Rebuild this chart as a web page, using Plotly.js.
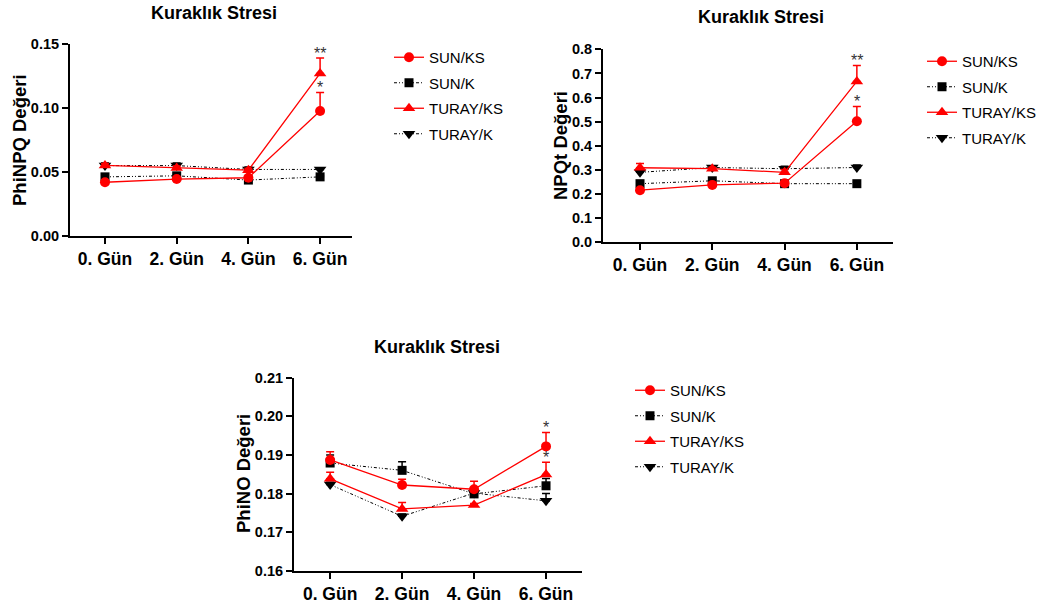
<!DOCTYPE html>
<html>
<head>
<meta charset="utf-8">
<script src="https://cdn.plot.ly/plotly-3.0.1.min.js"></script>
<style>
  html, body { margin: 0; padding: 0; background: #fff; }
  #chart { width: 1057px; height: 612px; }
</style>
</head>
<body>
<div id="chart"></div>
<script>
// Sampling days and treatment groups
const days = ['0. Gün', '2. Gün', '4. Gün', '6. Gün'];
const groups = ['SUN/KS', 'SUN/K', 'TURAY/KS', 'TURAY/K'];

// PhiNPQ: means and standard errors per group
const phiNPQ_SUN_KS = [0.0420, 0.0445, 0.0455, 0.0976];
const phiNPQ_SUN_KS_se = [0.0010, 0.0010, 0.0010, 0.0146];
const phiNPQ_SUN_K = [0.0462, 0.0470, 0.0437, 0.0462];
const phiNPQ_SUN_K_se = [0.0010, 0.0010, 0.0010, 0.0010];
const phiNPQ_TURAY_KS = [0.0551, 0.0532, 0.0514, 0.1270];
const phiNPQ_TURAY_KS_se = [0.0015, 0.0015, 0.0015, 0.0120];
const phiNPQ_TURAY_K = [0.0550, 0.0550, 0.0520, 0.0520];
const phiNPQ_TURAY_K_se = [0.0020, 0.0020, 0.0020, 0.0010];
const phiNPQ_sig = { 'SUN/KS': ['', '', '', '*'], 'TURAY/KS': ['', '', '', '**'] };

// NPQt: means and standard errors per group
const npqt_SUN_KS = [0.216, 0.238, 0.245, 0.502];
const npqt_SUN_KS_se = [0.005, 0.005, 0.005, 0.061];
const npqt_SUN_K = [0.243, 0.255, 0.243, 0.243];
const npqt_SUN_K_se = [0.005, 0.005, 0.005, 0.005];
const npqt_TURAY_KS = [0.309, 0.305, 0.290, 0.667];
const npqt_TURAY_KS_se = [0.018, 0.006, 0.012, 0.066];
const npqt_TURAY_K = [0.290, 0.310, 0.305, 0.310];
const npqt_TURAY_K_se = [0.005, 0.005, 0.010, 0.010];
const npqt_sig = { 'SUN/KS': ['', '', '', '*'], 'TURAY/KS': ['', '', '', '**'] };

// PhiNO: means and standard errors per group
const phiNO_SUN_KS = [0.1887, 0.1822, 0.1811, 0.1922];
const phiNO_SUN_KS_se = [0.0021, 0.0015, 0.0021, 0.0036];
const phiNO_SUN_K = [0.1879, 0.1860, 0.1799, 0.1820];
const phiNO_SUN_K_se = [0.0021, 0.0022, 0.0008, 0.0019];
const phiNO_TURAY_KS = [0.1838, 0.1760, 0.1770, 0.1849];
const phiNO_TURAY_KS_se = [0.0017, 0.0017, 0.0004, 0.0032];
const phiNO_TURAY_K = [0.1823, 0.1741, 0.1801, 0.1781];
const phiNO_TURAY_K_se = [0.0006, 0.0006, 0.0006, 0.0019];
const phiNO_sig = { 'SUN/KS': ['', '', '', '*'], 'TURAY/KS': ['', '', '', '*'] };

const FONT = 'Liberation Sans, Arial, Helvetica, sans-serif';
const RED = '#ff0000';
const BLACK = '#000000';
const DOTTED = '3px,2px,1px,2px,1px,2px';

const styles = {
  'SUN/KS':   { color: RED,   symbol: 'circle',        size: 10, dash: 'solid', width: 1.3, rank: 1 },
  'SUN/K':    { color: BLACK, symbol: 'square',        size: 9,  dash: DOTTED,  width: 1,   rank: 2 },
  'TURAY/KS': { color: RED,   symbol: 'triangle-up',   size: 11, dash: 'solid', width: 1.3, rank: 3 },
  'TURAY/K':  { color: BLACK, symbol: 'triangle-down', size: 11, dash: DOTTED,  width: 1,   rank: 4 }
};

const panels = [
  { xa: 'x',  ya: 'y',  legend: 'legend',  sig: phiNPQ_sig,
    data: { 'SUN/KS': [phiNPQ_SUN_KS, phiNPQ_SUN_KS_se], 'SUN/K': [phiNPQ_SUN_K, phiNPQ_SUN_K_se],
            'TURAY/KS': [phiNPQ_TURAY_KS, phiNPQ_TURAY_KS_se], 'TURAY/K': [phiNPQ_TURAY_K, phiNPQ_TURAY_K_se] } },
  { xa: 'x2', ya: 'y2', legend: 'legend2', sig: npqt_sig,
    data: { 'SUN/KS': [npqt_SUN_KS, npqt_SUN_KS_se], 'SUN/K': [npqt_SUN_K, npqt_SUN_K_se],
            'TURAY/KS': [npqt_TURAY_KS, npqt_TURAY_KS_se], 'TURAY/K': [npqt_TURAY_K, npqt_TURAY_K_se] } },
  { xa: 'x3', ya: 'y3', legend: 'legend3', sig: phiNO_sig,
    data: { 'SUN/KS': [phiNO_SUN_KS, phiNO_SUN_KS_se], 'SUN/K': [phiNO_SUN_K, phiNO_SUN_K_se],
            'TURAY/KS': [phiNO_TURAY_KS, phiNO_TURAY_KS_se], 'TURAY/K': [phiNO_TURAY_K, phiNO_TURAY_K_se] } }
];

// Black control groups are drawn first so the red stress groups sit on top
const drawOrder = ['SUN/K', 'TURAY/K', 'SUN/KS', 'TURAY/KS'];

const traces = [];
const annotations = [];

panels.forEach(function (p) {
  drawOrder.forEach(function (g) {
    const s = styles[g];
    const mean = p.data[g][0];
    const se = p.data[g][1];
    traces.push({
      type: 'scatter', mode: 'lines+markers',
      name: g, x: days, y: mean,
      xaxis: p.xa, yaxis: p.ya,
      legend: p.legend, legendrank: s.rank, legendgroup: p.legend + g,
      line: { color: s.color, width: s.width, dash: s.dash },
      marker: { color: s.color, symbol: s.symbol, size: s.size, line: { width: 0 } },
      error_y: { type: 'data', symmetric: false, array: se, arrayminus: se.map(function () { return 0; }),
                 color: s.color, thickness: 1.5, width: 4 },
      cliponaxis: false, hoverinfo: 'x+y+name'
    });
  });
  // significance stars just above the upper error bar
  Object.keys(p.sig).forEach(function (g) {
    const mean = p.data[g][0];
    const se = p.data[g][1];
    p.sig[g].forEach(function (txt, i) {
      if (!txt) return;
      annotations.push({
        xref: p.xa, yref: p.ya, x: i, y: mean[i] + se[i],
        text: txt, showarrow: false, xanchor: 'center', yanchor: 'middle', yshift: 5,
        font: { family: FONT, size: 16, color: '#333' }
      });
    });
  });
});

// Panel titles and y-axis titles
function panelTitle(x, y, text) {
  return { xref: 'paper', yref: 'paper', x: x / 1057, y: 1 - y / 612, text: text, showarrow: false,
           xanchor: 'center', yanchor: 'middle', font: { family: FONT, size: 18, color: '#000' } };
}
function yTitle(x, y, text) {
  return { xref: 'paper', yref: 'paper', x: x / 1057, y: 1 - y / 612, text: text, showarrow: false,
           textangle: -90, xanchor: 'center', yanchor: 'middle', font: { family: FONT, size: 18.5, color: '#000' } };
}
annotations.push(panelTitle(214, 13, '<b>Kuraklık Stresi</b>'));
annotations.push(panelTitle(761, 17, '<b>Kuraklık Stresi</b>'));
annotations.push(panelTitle(437, 347, '<b>Kuraklık Stresi</b>'));
annotations.push(yTitle(20, 140, '<b>PhiNPQ Değeri</b>'));
annotations.push(yTitle(560, 146, '<b>NPQt Değeri</b>'));
annotations.push(yTitle(243, 474, '<b>PhiNO Değeri</b>'));

function xAxis(domain, range, anchor) {
  return {
    domain: domain, range: range, anchor: anchor, type: 'category',
    showline: true, linecolor: '#000', linewidth: 2, showgrid: false, zeroline: false,
    ticks: 'outside', ticklen: 6, tickwidth: 2, tickcolor: '#000',
    tickfont: { family: FONT, size: 17.5, color: '#000', weight: 'bold' }, fixedrange: true
  };
}
function yAxis(domain, range, dtick, fmt, anchor) {
  return {
    domain: domain, range: range, anchor: anchor, dtick: dtick, tick0: 0, tickformat: fmt,
    showline: true, linecolor: '#000', linewidth: 2, showgrid: false, zeroline: false,
    ticks: 'outside', ticklen: 6, tickwidth: 2, tickcolor: '#000',
    tickfont: { family: FONT, size: 14.5, color: '#000', weight: 'bold' }, fixedrange: true
  };
}
function legendAt(x, y) {
  return {
    x: x / 1057, y: 1 - y / 612, xanchor: 'left', yanchor: 'top',
    bgcolor: 'rgba(0,0,0,0)', borderwidth: 0, tracegroupgap: 3,
    font: { family: FONT, size: 15, color: '#000' }
  };
}

const layout = {
  width: 1057, height: 612,
  margin: { l: 0, r: 0, t: 0, b: 0 },
  paper_bgcolor: '#fff', plot_bgcolor: 'rgba(0,0,0,0)',
  showlegend: true,
  xaxis:  xAxis([70 / 1057, 352 / 1057], [-0.488, 3.445], 'y'),
  yaxis:  yAxis([1 - 236 / 612, 1 - 44 / 612], [0, 0.15], 0.05, '.2f', 'x'),
  xaxis2: xAxis([603 / 1057, 893 / 1057], [-0.512, 3.5], 'y2'),
  yaxis2: yAxis([1 - 242.3 / 612, 1 - 49.3 / 612], [0, 0.8], 0.1, '.1f', 'x2'),
  xaxis3: xAxis([294 / 1057, 582 / 1057], [-0.502, 3.5], 'y3'),
  yaxis3: yAxis([1 - 570.7 / 612, 1 - 377.7 / 612], [0.16, 0.21], 0.01, '.2f', 'x3'),
  legend:  legendAt(389, 41),
  legend2: legendAt(922, 45),
  legend3: legendAt(630, 374),
  annotations: annotations
};

Plotly.newPlot('chart', traces, layout, { displayModeBar: false, staticPlot: true });
</script>
</body>
</html>
